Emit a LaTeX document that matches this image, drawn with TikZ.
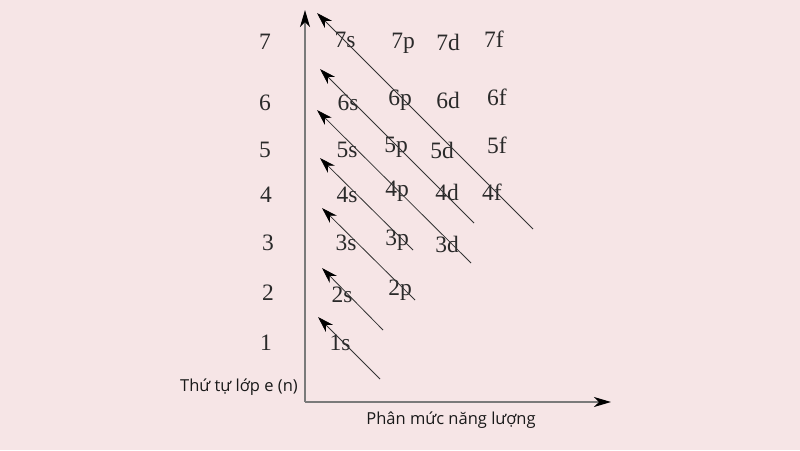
\documentclass[tikz,border=0pt]{standalone}
\usepackage{fontspec}
\setmainfont{Liberation Serif}
\newfontfamily\labfont{Open Sans}
\usetikzlibrary{arrows.meta}
\definecolor{bg}{HTML}{F6E5E6}
\definecolor{axisgray}{HTML}{7A7A7A}
\definecolor{linegray}{HTML}{333333}
\definecolor{txt}{HTML}{2A2A2A}
\begin{document}
\begin{tikzpicture}[x=1pt,y=-1pt,
  orb/.style={font=\fontsize{23.5}{26}\selectfont, text=txt, inner sep=0pt},
  rownum/.style={font=\fontsize{23.5}{26}\selectfont, text=txt, inner sep=0pt},
  axlab/.style={font=\labfont\fontsize{16.5}{18}\selectfont, text=black!90, inner sep=0pt},
  axisline/.style={draw=axisgray, line width=1.3pt, -{Stealth[length=17pt,width=10pt,inset=5pt,color=black,fill=black]}},
  diag/.style={draw=linegray, line width=0.8pt, -{Stealth[length=16pt,width=10pt,inset=5pt,color=black,fill=black]}}]
\fill[bg] (0,0) rectangle (800,450);
\useasboundingbox (0,0) rectangle (800,450);
% axes
\coordinate (O) at (305,402);
\coordinate (Ytop) at (305,10);
\coordinate (Xend) at (611,402);
\draw[axisline] (O) -- (Ytop);
\draw[axisline] (O) -- (Xend);
\node[axlab, anchor=east] (ylab) at (298,387) {Thứ tự lớp e (n)};
\node[axlab] (xlab) at (451,420) {Phân mức năng lượng};
% row numbers
\node[rownum] (r7) at (265,42) {7};
\node[rownum] (r6) at (265,103) {6};
\node[rownum] (r5) at (265,150) {5};
\node[rownum] (r4) at (266,195) {4};
\node[rownum] (r3) at (268,243) {3};
\node[rownum] (r2) at (268,293) {2};
\node[rownum] (r1) at (266,343) {1};
% orbitals
\node[orb] (o7s) at (345,40) {7s};
\node[orb] (o7p) at (403,43) {7p};
\node[orb] (o7d) at (448,42) {7d};
\node[orb] (o7f) at (494,39) {7f};
\node[orb] (o6s) at (348,103) {6s};
\node[orb] (o6p) at (400,100) {6p};
\node[orb] (o6d) at (448,100) {6d};
\node[orb] (o6f) at (497,97) {6f};
\node[orb] (o5s) at (347,150) {5s};
\node[orb] (o5p) at (396,147) {5p};
\node[orb] (o5d) at (442,150) {5d};
\node[orb] (o5f) at (497,145) {5f};
\node[orb] (o4s) at (347,195) {4s};
\node[orb] (o4p) at (397,191) {4p};
\node[orb] (o4d) at (447,192) {4d};
\node[orb] (o4f) at (492,192) {4f};
\node[orb] (o3s) at (346,243) {3s};
\node[orb] (o3p) at (397,240) {3p};
\node[orb] (o3d) at (447,244) {3d};
\node[orb] (o2s) at (342,295) {2s};
\node[orb] (o2p) at (400,290) {2p};
\node[orb] (o1s) at (340,343) {1s};
% diagonal arrows
\coordinate (t1) at (380,379); \coordinate (h1) at (318,317);
\coordinate (t2) at (383,330); \coordinate (h2) at (322,268);
\coordinate (t3) at (415,300); \coordinate (h3) at (322,208);
\coordinate (t4) at (413,250); \coordinate (h4) at (320,158);
\coordinate (t5) at (471,263); \coordinate (h5) at (317,110);
\coordinate (t6) at (474,223); \coordinate (h6) at (320,69);
\coordinate (t7) at (533,229); \coordinate (h7) at (317,13);
\foreach \i in {1,...,7} \draw[diag] (t\i) -- (h\i);
\end{tikzpicture}
\end{document}
